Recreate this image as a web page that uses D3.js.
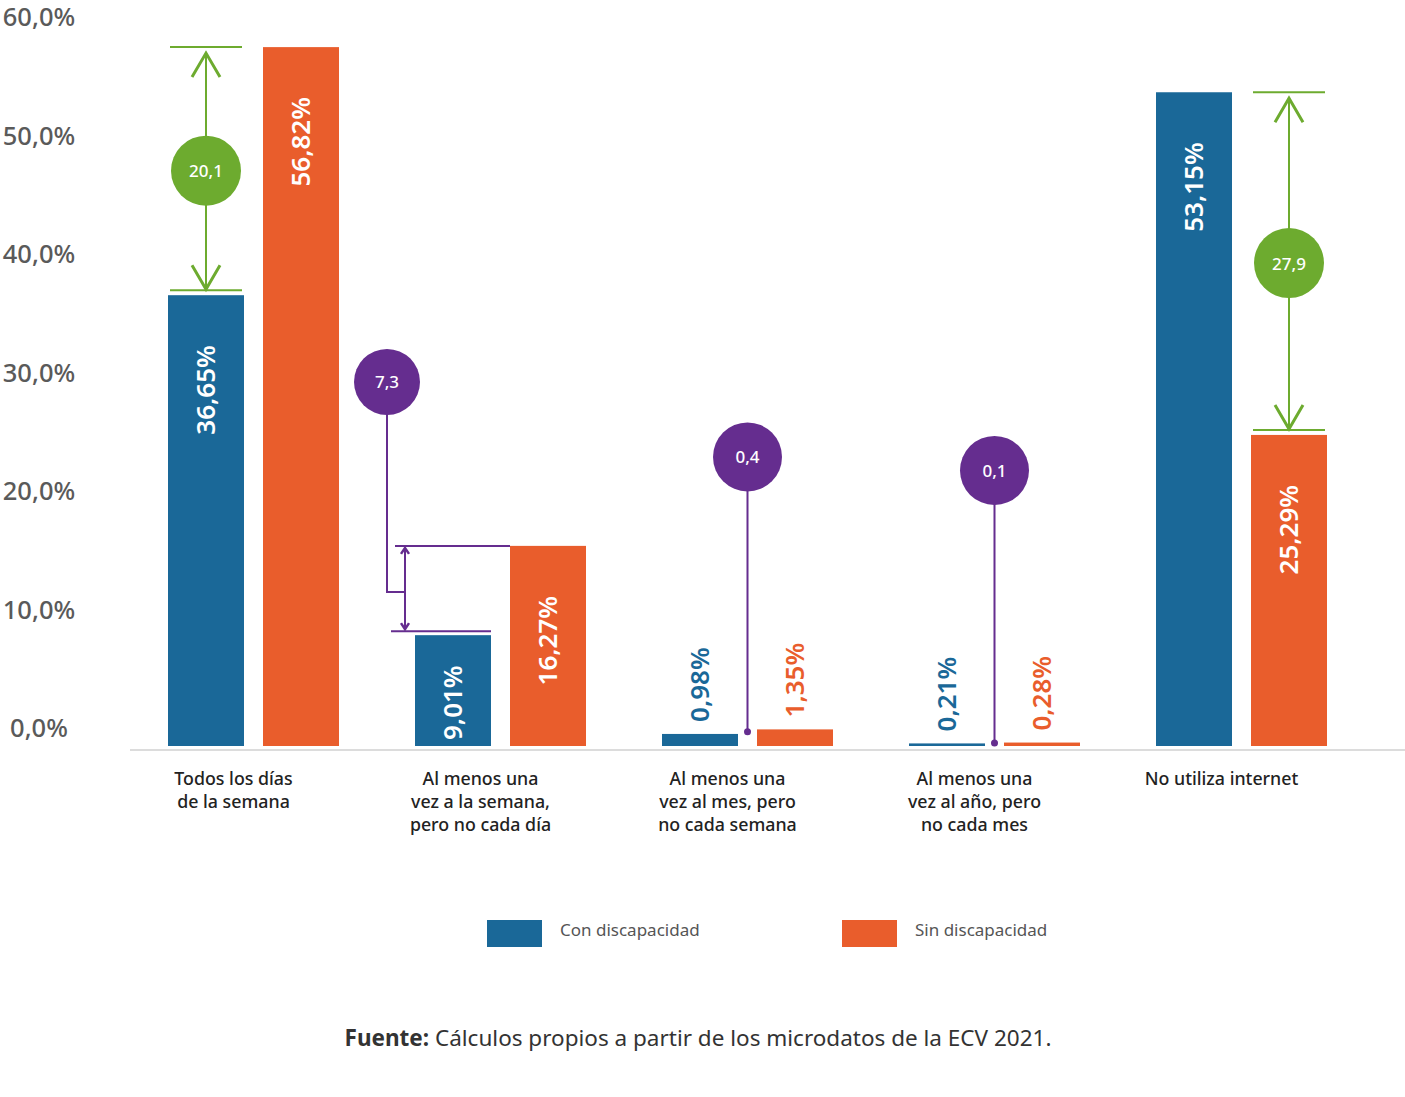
<!DOCTYPE html>
<html><head><meta charset="utf-8">
<script src="https://cdn.jsdelivr.net/npm/d3@7"></script>
<style>
html,body{margin:0;padding:0;background:#fff;}
svg{display:block;font-family:"Noto Sans",sans-serif;}
</style></head>
<body>
<svg id="chart" width="1405" height="1097"></svg>
<script>
// ---- data ----
const categories = [
  ["Todos los días","de la semana"],
  ["Al menos una","vez a la semana,","pero no cada día"],
  ["Al menos una","vez al mes, pero","no cada semana"],
  ["Al menos una","vez al año, pero","no cada mes"],
  ["No utiliza internet"]
];
const seriesNames = ["Con discapacidad","Sin discapacidad"];
const conDiscapacidad = [36.65, 9.01, 0.98, 0.21, 53.15];
const sinDiscapacidad = [56.82, 16.27, 1.35, 0.28, 25.29];
const gapValues = [20.1, 7.3, 0.4, 0.1, 27.9];
const yTickValues = [0, 10, 20, 30, 40, 50, 60];
const sourceBold = "Fuente:";
const sourceText = " Cálculos propios a partir de los microdatos de la ECV 2021.";

// ---- styles ----
const colors = {"Con discapacidad":"#1a6898","Sin discapacidad":"#e95d2c"};
const green = "#6dab2f", purple = "#652d8f";

const loc = d3.formatLocale({decimal:",",thousands:".",grouping:[3],currency:["","€"]});
const f2 = loc.format(".2f"), f1 = loc.format(".1f");

const svg = d3.select("#chart");
const idx = categories.map((d,i)=>i);

const x0 = d3.scaleBand().domain(idx).range([168, 168 + 4*247 + 171]).paddingInner(76/247).paddingOuter(0);
const x1 = d3.scaleBand().domain(seriesNames).range([0, x0.bandwidth()]).paddingInner(0.2);
const y = d3.scaleLinear().domain([0, 60]).range([746, 8]);
const yLabel = d3.scaleLinear().domain([0, 60]).range([727, 16]);

// tick labels
svg.append("g").selectAll("text").data(yTickValues).join("text")
  .attr("x", 39).attr("y", d => yLabel(d))
  .attr("text-anchor","middle").attr("dominant-baseline","central")
  .attr("font-size", 25.5).attr("font-weight", 500).attr("fill","#5a5a5a")
  .text(d => f1(d) + "%");

// baseline
svg.append("line").attr("x1",130).attr("x2",1405).attr("y1",750).attr("y2",750)
  .attr("stroke","#dcdcdc").attr("stroke-width",2);

const rows = idx.map(i => ({i, values:[
  {s:seriesNames[0], v:conDiscapacidad[i]},
  {s:seriesNames[1], v:sinDiscapacidad[i]}]}));

const groups = svg.append("g").selectAll("g").data(rows).join("g")
  .attr("transform", d => `translate(${x0(d.i)},0)`);

groups.selectAll("rect").data(d => d.values).join("rect")
  .attr("x", d => x1(d.s)).attr("width", x1.bandwidth())
  .attr("y", d => y(d.v)).attr("height", d => y(0) - y(d.v))
  .attr("fill", d => colors[d.s]);

// value labels
groups.selectAll("text.val").data(d => d.values).join("text")
  .attr("class","val")
  .each(function(d){
    const h = y(0) - y(d.v);
    const cx = x1(d.s) + x1.bandwidth()/2;
    const t = d3.select(this);
    let ty, anchor, fill;
    if (h > 150) { ty = y(d.v) + 50; anchor = "end"; fill = "#fff"; }
    else if (h > 60) { ty = y(0) - 6; anchor = "start"; fill = "#fff"; }
    else { ty = y(d.v) - 12; anchor = "start"; fill = colors[d.s]; }
    t.attr("transform", `translate(${cx - 1},${ty}) rotate(-90)`)
     .attr("text-anchor", anchor).attr("dominant-baseline","central")
     .attr("font-size", 26).attr("font-weight", 600).attr("fill", fill)
     .text(f2(d.v) + "%");
  });

// category labels
const catX = i => x0(i) + x0.bandwidth()/2 - 20;
svg.append("g").selectAll("text").data(idx).join("text")
  .attr("x", catX)
  .attr("y", 779)
  .attr("text-anchor","middle").attr("font-size", 17.8).attr("font-weight", 500).attr("fill","#222")
  .each(function(i){
    d3.select(this).selectAll("tspan").data(categories[i]).join("tspan")
      .attr("x", catX(i))
      .attr("dy", (d,k) => k === 0 ? "0.35em" : 23)
      .text(d => d);
  });

// ---- difference annotations ----
const ann = svg.append("g");
function vArrowHead(g, x, yTip, dir, color, w, h, sw){
  g.append("path").attr("d", `M${x-w},${yTip+dir*h} L${x},${yTip} L${x+w},${yTip+dir*h}`)
    .attr("fill","none").attr("stroke", color).attr("stroke-width", sw);
}
function badge(cx, cy, r, color, label){
  ann.append("circle").attr("cx",cx).attr("cy",cy).attr("r",r).attr("fill",color);
  ann.append("text").attr("x",cx).attr("y",cy).attr("text-anchor","middle")
    .attr("dominant-baseline","central").attr("font-size",17).attr("font-weight",500)
    .attr("fill","#fff").text(label);
}
const bw = x1.bandwidth();
idx.forEach(i => {
  const a = conDiscapacidad[i], b = sinDiscapacidad[i];
  const hi = Math.max(a,b), lo = Math.min(a,b);
  const lowSeries = a < b ? seriesNames[0] : seriesNames[1];
  const label = f1(gapValues[i]);
  const yHi = y(hi), yLo = y(lo) - 5;
  if (gapValues[i] >= 10) {
    const bx = x0(i) + x1(lowSeries);
    const cx = bx + bw/2;
    [yHi, yLo].forEach(yy => ann.append("line").attr("x1",bx+2).attr("x2",bx+bw-2)
      .attr("y1",yy).attr("y2",yy).attr("stroke",green).attr("stroke-width",2));
    ann.append("line").attr("x1",cx).attr("x2",cx).attr("y1",yHi+5).attr("y2",yLo-1)
      .attr("stroke",green).attr("stroke-width",2);
    vArrowHead(ann, cx, yHi+6, 1, green, 14, 24, 3);
    vArrowHead(ann, cx, yLo-1, -1, green, 14, 24, 3);
    badge(cx, (yHi + yLo)/2 + 2, 35, green, label);
  } else if (yLo - yHi > 50) {
    const blueX = x0(i) + x1(seriesNames[0]);
    const orangeX = x0(i) + x1(seriesNames[1]);
    const ax = blueX - 10;
    ann.append("line").attr("x1",ax-10).attr("x2",orangeX).attr("y1",yHi).attr("y2",yHi)
      .attr("stroke",purple).attr("stroke-width",2);
    ann.append("line").attr("x1",ax-14).attr("x2",blueX+bw).attr("y1",yLo+1).attr("y2",yLo+1)
      .attr("stroke",purple).attr("stroke-width",2);
    ann.append("line").attr("x1",ax).attr("x2",ax).attr("y1",yHi+2).attr("y2",yLo-1)
      .attr("stroke",purple).attr("stroke-width",2);
    vArrowHead(ann, ax, yHi+2, 1, purple, 4, 6, 2.5);
    vArrowHead(ann, ax, yLo-1, -1, purple, 4, 6, 2.5);
    const ex = ax - 18, ey = (yHi + yLo)/2 + 4;
    const cy = y(29.6);
    ann.append("path").attr("d", `M${ex},${cy} L${ex},${ey} L${ax},${ey}`)
      .attr("fill","none").attr("stroke",purple).attr("stroke-width",2);
    badge(ex, cy, 33, purple, label);
  } else {
    const mx = x0(i) + (x1(seriesNames[0]) + bw + x1(seriesNames[1]))/2;
    const dy = y((a + b)/2);
    const cy = i === 2 ? y(23.5) : y(22.4);
    ann.append("line").attr("x1",mx).attr("x2",mx).attr("y1",cy).attr("y2",dy)
      .attr("stroke",purple).attr("stroke-width",2);
    ann.append("circle").attr("cx",mx).attr("cy",dy).attr("r",3.5).attr("fill",purple);
    badge(mx, cy, 34.5, purple, label);
  }
});

// legend
const legend = svg.append("g").selectAll("g").data(seriesNames).join("g")
  .attr("transform", (d,k) => `translate(${487 + k*355},920)`);
legend.append("rect").attr("width",55).attr("height",27).attr("fill", d => colors[d]);
legend.append("text").attr("x",73).attr("y",9).attr("dominant-baseline","central")
  .attr("font-size",17).attr("font-weight",400).attr("fill","#555").text(d => d);

// source
const src = svg.append("text").attr("x",698).attr("y",1037).attr("text-anchor","middle")
  .attr("dominant-baseline","central").attr("font-size",22.5).attr("fill","#333");
src.append("tspan").attr("font-weight",700).text(sourceBold);
src.append("tspan").text(sourceText);
</script>
</body></html>
